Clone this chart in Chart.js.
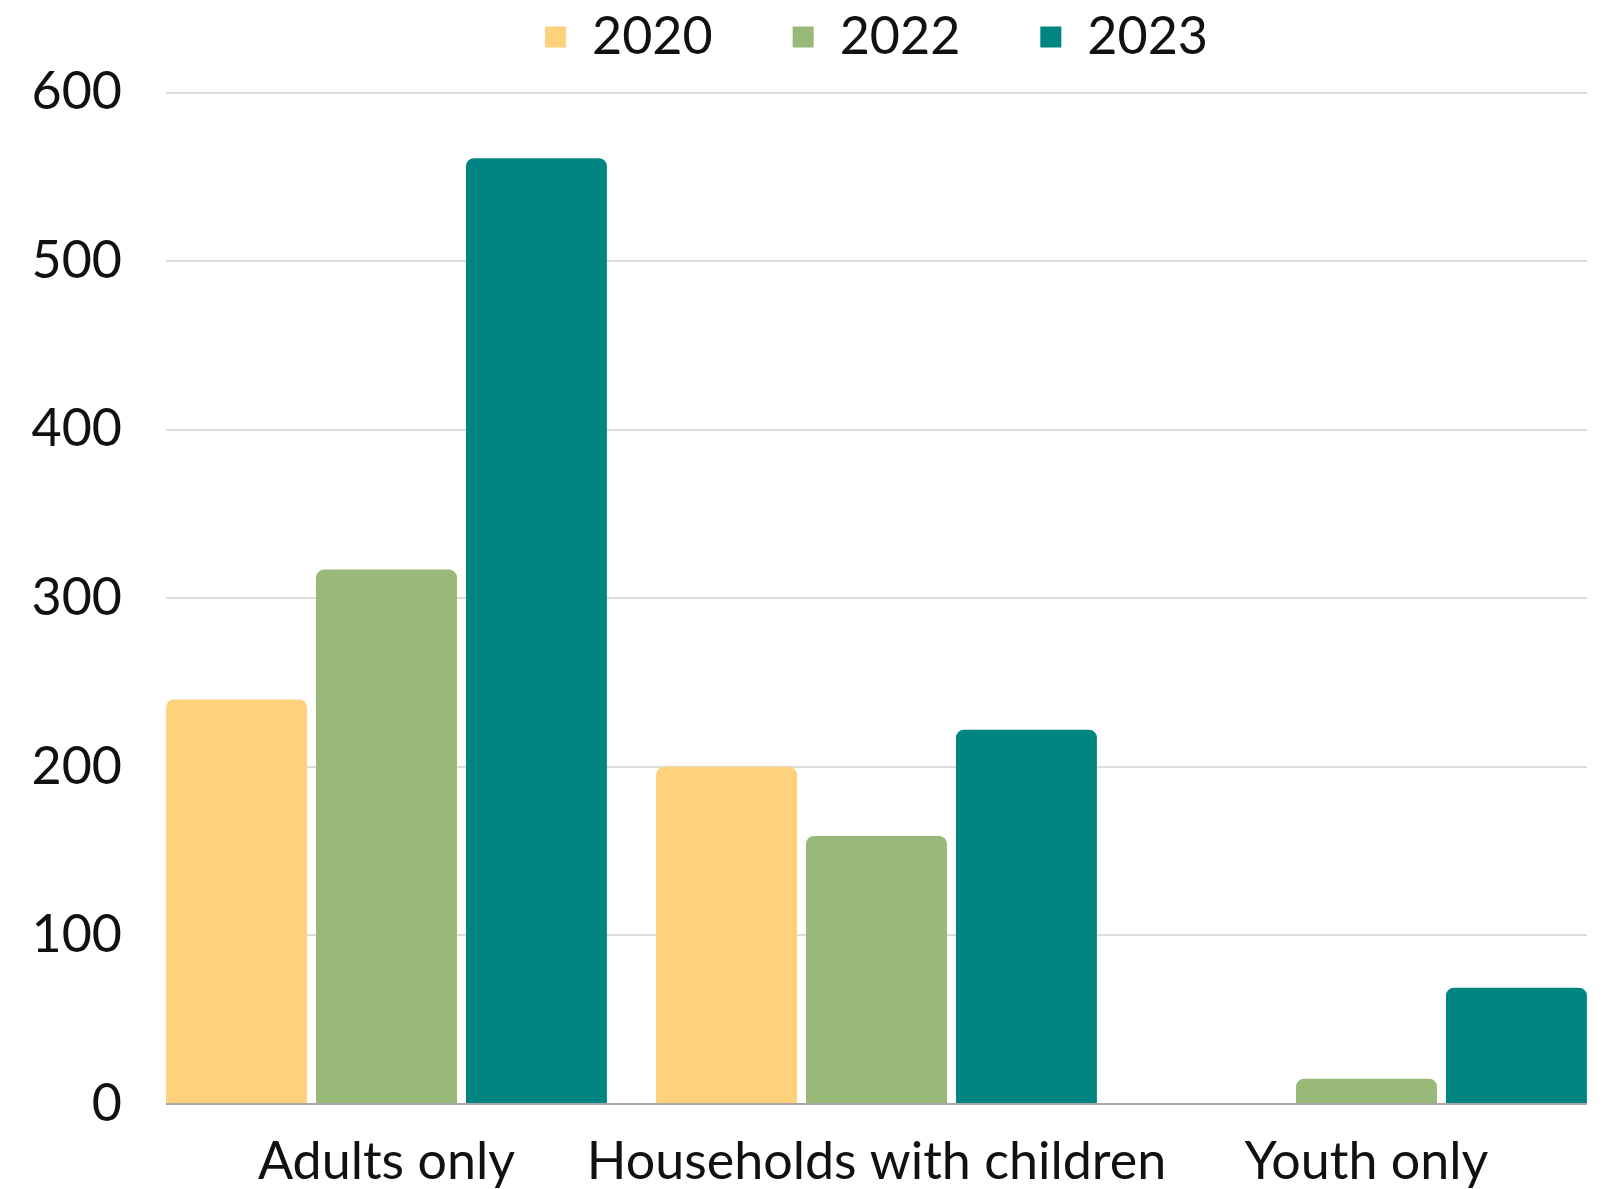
<!DOCTYPE html>
<html lang="en">
<head>
  <meta charset="UTF-8">
  <title>Households by type</title>
  <script src="https://cdn.jsdelivr.net/npm/chart.js@4.4.0/dist/chart.umd.min.js"></script>
<style>
*{
    margin: 0px;
    padding: 0px;
    box-sizing: border-box;
}
body{
    background: #ffffff;
}
#wrap{
    width: 1611px;
    height: 1189px;
}
</style>
</head>
<body>
  <div id="wrap">
    <canvas id="myChart"></canvas>
  </div>
<script>
// data
const categories = ["Adults only", "Households with children", "Youth only"];
const years = ["2020", "2022", "2023"];
const values2020 = [240, 200, 0];
const values2022 = [317, 159, 15];
const values2023 = [561, 222, 69];
const yTicks = [0, 100, 200, 300, 400, 500, 600];

const colors = ["#fed17c", "#98b978", "#008582"];
const FONT = "Lato, 'DejaVu Sans', sans-serif";

const LAYOUT_TOP = -69;     // legend box is pulled up so its big padding only spaces items
const AREA_TOP = 92.5;      // where the 600 gridline sits

function toPoints(arr){
  return arr.map((v, i) => ({x: i, y: v}));
}

// fix the legend's height so the plot starts where it does in the reference
const legendHeight = {
  id: "legendHeight",
  beforeLayout(chart){
    const lg = chart.legend;
    if (lg && !lg._fixed) {
      const fit = lg.fit;
      lg.fit = function(){
        fit.call(this);
        this.height = AREA_TOP - LAYOUT_TOP;
      };
      lg._fixed = true;
    }
  }
};

const config = {
  type: "bar",
  data: {
    datasets: [
      { label: years[0], data: toPoints(values2020), backgroundColor: colors[0] },
      { label: years[1], data: toPoints(values2022), backgroundColor: colors[1] },
      { label: years[2], data: toPoints(values2023), backgroundColor: colors[2] }
    ]
  },
  options: {
    responsive: true,
    maintainAspectRatio: false,
    animation: false,
    layout: { padding: { top: LAYOUT_TOP, right: 24, left: 0, bottom: 0 } },
    datasets: {
      bar: {
        categoryPercentage: 0.918,
        barPercentage: 0.94,
        borderRadius: { topLeft: 8, topRight: 8 },
        borderSkipped: "start"
      }
    },
    plugins: {
      legend: {
        position: "top",
        fullSize: false,
        labels: {
          color: "#111",
          font: { family: FONT, size: 52 },
          boxWidth: 21,
          boxHeight: 21,
          padding: 80
        }
      },
      tooltip: { enabled: false }
    },
    scales: {
      x: {
        type: "linear",
        offset: false,
        min: -0.45,
        max: 2.45,
        grid: { display: false },
        border: { display: false },
        afterFit: (scale) => { scale.height = 85; },
        ticks: {
          stepSize: 1,
          includeBounds: false,
          autoSkip: false,
          maxRotation: 0,
          minRotation: 0,
          padding: 19,
          color: "#111",
          font: { family: FONT, size: 52 },
          callback: (v) => categories[v] !== undefined ? categories[v] : ""
        }
      },
      y: {
        min: yTicks[0],
        max: yTicks[yTicks.length - 1],
        afterFit: (scale) => { scale.width = 166; },
        grid: {
          drawTicks: false,
          lineWidth: 2,
          color: (ctx) => ctx.tick && ctx.tick.value === 0 ? "#a8a8a8" : "#dcdcdc"
        },
        border: { display: false },
        ticks: {
          stepSize: 100,
          padding: 44,
          color: "#111",
          font: { family: FONT, size: 52 }
        }
      }
    }
  },
  plugins: [legendHeight]
};

var myChart = new Chart(document.getElementById("myChart"), config);
</script>
</body>
</html>
